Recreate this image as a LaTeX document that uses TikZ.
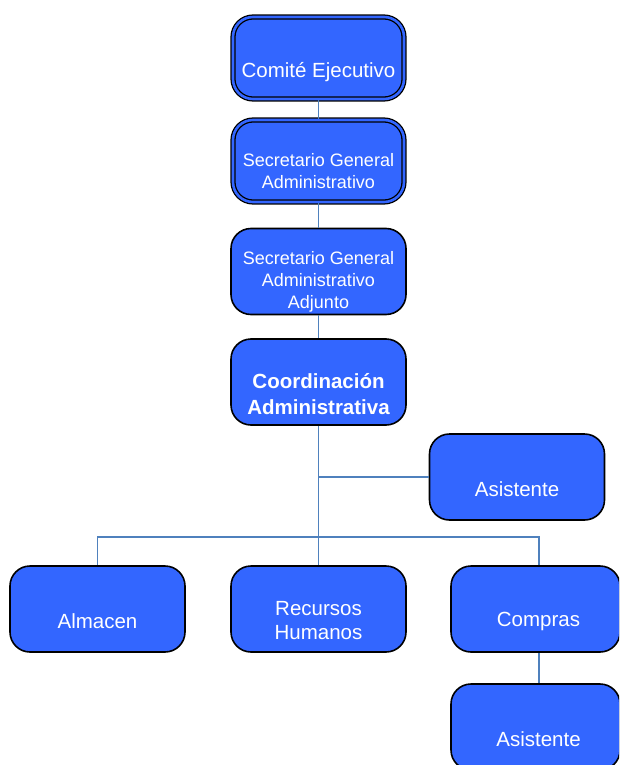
\documentclass[tikz,border=0pt]{standalone}
\usepackage{fontspec}
\setmainfont{Liberation Sans}
\definecolor{boxblue}{RGB}{51,102,255}
\definecolor{linkblue}{RGB}{79,129,189}
\begin{document}
\begin{tikzpicture}[x=1pt, y=-1pt,
  box/.style={draw=black, line width=1.6pt, fill=boxblue, rounded corners=20pt,
    minimum width=175pt, minimum height=86pt, inner sep=0pt},
  dbox/.style={box, line width=1.3pt, double=boxblue, double distance=2.6pt,
    minimum width=171pt, minimum height=82pt},
  nbox/.style={box, minimum width=169pt},
  lbl/.style={text=white, align=center, yshift=-12pt, inner sep=0pt,
    font=\fontsize{20.5}{24}\selectfont},
  slbl/.style={lbl, yshift=2pt, font=\fontsize{18}{22}\selectfont},
  blbl/.style={lbl, font=\fontsize{20.5}{26}\selectfont\bfseries},
  link/.style={draw=linkblue, line width=1.4pt}]
\useasboundingbox (0,0) rectangle (619,765);
\clip (0,0) rectangle (619,765);
\node[dbox, label={[lbl, yshift=-2pt]center:Comité Ejecutivo}] (ce) at (318.5,58){};
\node[dbox, label={[slbl]center:Secretario General\\Administrativo}] (sga) at (318.5,161){};
\node[box, label={[slbl]center:Secretario General\\Administrativo\\Adjunto}] (sgaa) at (318.5,271.5){};
\node[box, label={[blbl]center:Coordinación\\Administrativa}] (coord) at (318.5,382){};
\node[box, label={[lbl]center:Asistente}] (asis1) at (517,477){};
\node[box, label={[lbl]center:Almacen}] (alm) at (97.5,609){};
\node[box, label={[lbl]center:Recursos\\Humanos}] (rh) at (318.5,609){};
\node[nbox, label={[lbl, xshift=3pt]center:Compras}] (comp) at (535.5,609){};
\node[nbox, label={[lbl, xshift=3pt]center:Asistente}] (asis2) at (535.5,727){};
\coordinate (bus) at (318.5,537);
\coordinate (compin) at (539,565);
\coordinate (compout) at (539,653);
\coordinate (asis2in) at (539,683);
\draw[link] (ce) -- (sga);
\draw[link] (sga) -- (sgaa);
\draw[link] (sgaa) -- (coord);
\draw[link] (coord) -- (rh);
\draw[link] (coord.south) |- (asis1.west);
\draw[link] (bus) -| (alm.north);
\draw[link] (bus) -| (compin);
\draw[link] (compout) -- (asis2in);
\end{tikzpicture}
\end{document}
